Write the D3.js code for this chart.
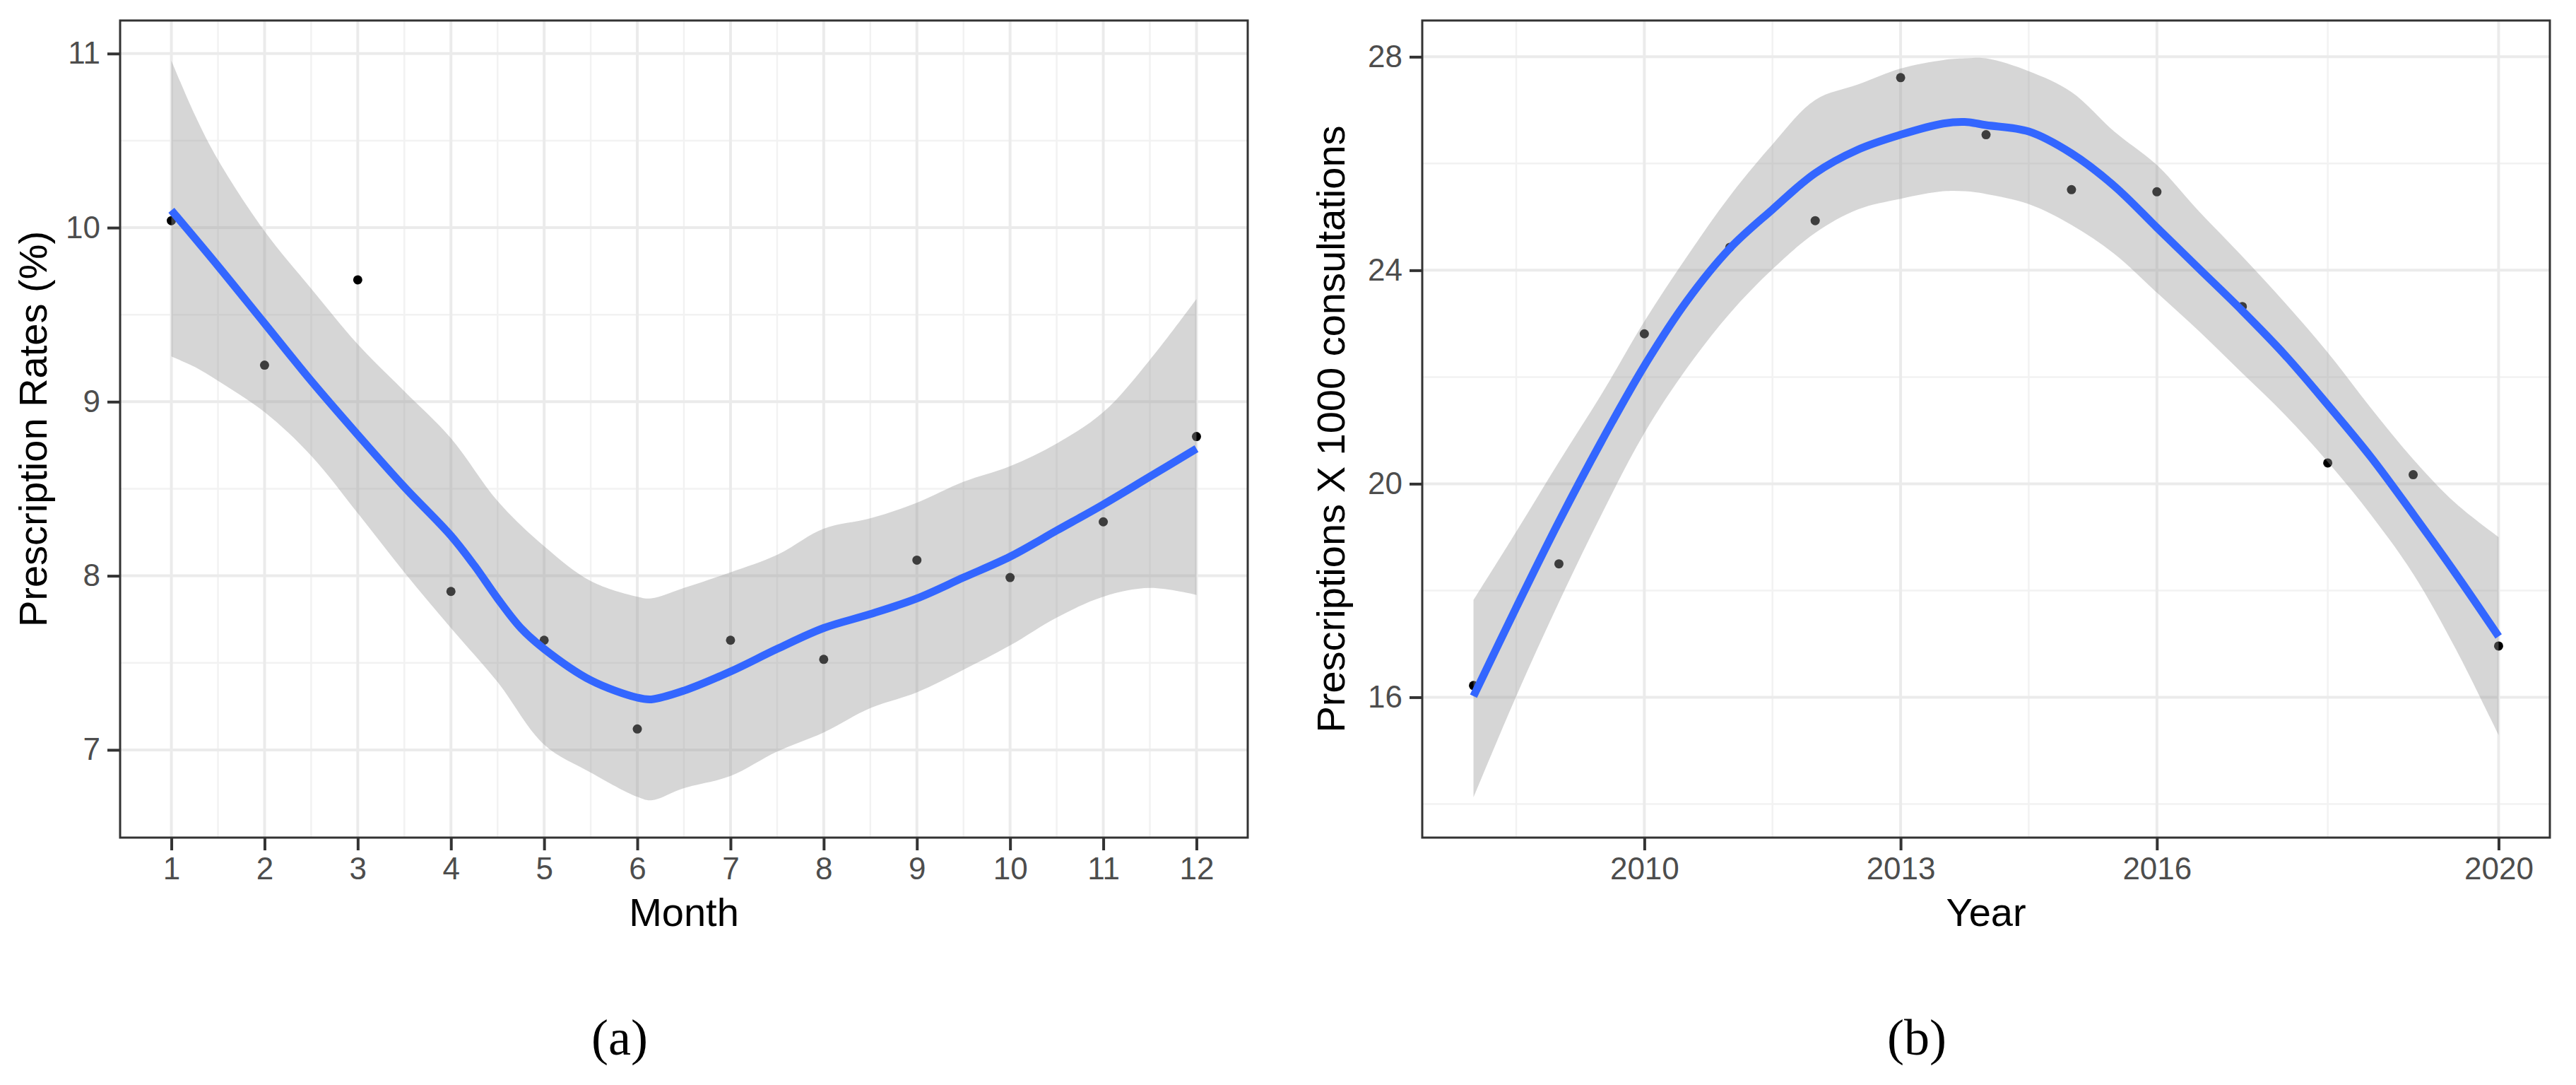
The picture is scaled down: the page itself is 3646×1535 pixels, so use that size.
<!DOCTYPE html>
<html><head><meta charset="utf-8">
<script src="https://cdn.jsdelivr.net/npm/d3@7/dist/d3.min.js"></script>
<style>body{margin:0;background:#fff}</style>
</head><body>
<svg id="c" width="3646" height="1535"></svg>
<script>
// ---------- Panel (a): monthly prescription rates ----------
const months = [1,2,3,4,5,6,7,8,9,10,11,12];
const monthRates = [10.04,9.21,9.70,7.91,7.63,7.12,7.63,7.52,8.09,7.99,8.31,8.80];
const monthFitX = [1,1.5,2,2.5,3,3.5,4,4.25,4.5,4.75,5,5.5,6,6.15,6.5,7,7.5,8,8.5,9,9.5,10,10.5,11,11.5,12];
const monthFit  = [10.10,9.78,9.45,9.12,8.81,8.51,8.23,8.06,7.87,7.70,7.58,7.40,7.30,7.29,7.34,7.45,7.58,7.70,7.78,7.87,7.99,8.11,8.26,8.41,8.57,8.73];
const monthBandX = [1,1.25,1.5,2,2.5,3,3.5,4,4.5,5,5.5,6,6.15,6.5,7,7.5,8,8.5,9,9.5,10,10.5,11,11.5,12];
const monthUpper = [10.96,10.65,10.39,9.98,9.65,9.33,9.06,8.79,8.43,8.17,7.97,7.88,7.87,7.93,8.02,8.12,8.27,8.33,8.42,8.54,8.63,8.76,8.94,9.24,9.59];
const monthLower = [9.26,9.20,9.12,8.94,8.69,8.36,8.02,7.70,7.39,7.03,6.87,6.73,6.71,6.78,6.85,6.99,7.10,7.24,7.33,7.46,7.60,7.76,7.88,7.93,7.89];
const monthTicks = [1,2,3,4,5,6,7,8,9,10,11,12];
const monthMinor = [1.5,2.5,3.5,4.5,5.5,6.5,7.5,8.5,9.5,10.5,11.5];
const rateTicks = [7,8,9,10,11];
const rateMinor = [7.5,8.5,9.5,10.5];

// ---------- Panel (b): yearly prescriptions ----------
const years = [2008,2009,2010,2011,2012,2013,2014,2015,2016,2017,2018,2019,2020];
const yearValues = [16.22,18.50,22.81,24.43,24.93,27.61,26.54,25.51,25.47,23.32,20.39,20.17,16.96];
const yearFitX  = [2008,2008.5,2009,2009.5,2010,2010.5,2011,2011.5,2012,2012.5,2013,2013.5,2013.75,2014,2014.5,2015,2015.5,2016,2016.5,2017,2017.5,2018,2018.5,2019,2019.5,2020];
const yearFit   = [16.02,17.68,19.29,20.80,22.21,23.43,24.41,25.14,25.82,26.26,26.54,26.75,26.78,26.72,26.60,26.19,25.58,24.80,24.02,23.24,22.41,21.48,20.51,19.43,18.31,17.14];
const yearUpper = [17.82,19.10,20.41,21.68,23.04,24.26,25.39,26.36,27.19,27.48,27.78,27.94,27.97,27.97,27.73,27.34,26.60,25.97,25.09,24.26,23.39,22.46,21.43,20.46,19.63,19.00];
const yearLower = [14.12,16.02,17.78,19.43,20.95,22.17,23.19,24.02,24.70,25.14,25.34,25.48,25.48,25.43,25.24,24.85,24.31,23.58,22.85,22.07,21.29,20.41,19.43,18.31,16.90,15.29];
const yearTicks = [2010,2013,2016,2020];
const yearMinor = [2008.5,2011.5,2014.5,2018];
const presTicks = [16,20,24,28];
const presMinor = [14,18,22,26];

const svg = d3.select("#c");
svg.append("rect").attr("width",3646).attr("height",1535).attr("fill","#fff");

function panel(cfg){
  const x = d3.scaleLinear().domain(cfg.xdom).range([cfg.x0,cfg.x1]);
  const y = d3.scaleLinear().domain(cfg.ydom).range([cfg.y1,cfg.y0]);
  const g = svg.append("g");
  // minor grid
  g.selectAll(".mx").data(cfg.xMinor).enter().append("line")
    .attr("x1",d=>x(d)).attr("x2",d=>x(d)).attr("y1",cfg.y0).attr("y2",cfg.y1)
    .attr("stroke","#F2F2F2").attr("stroke-width",2.5);
  g.selectAll(".my").data(cfg.yMinor).enter().append("line")
    .attr("y1",d=>y(d)).attr("y2",d=>y(d)).attr("x1",cfg.x0).attr("x2",cfg.x1)
    .attr("stroke","#F2F2F2").attr("stroke-width",2.5);
  // major grid
  g.selectAll(".Mx").data(cfg.xTicks).enter().append("line")
    .attr("x1",d=>x(d)).attr("x2",d=>x(d)).attr("y1",cfg.y0).attr("y2",cfg.y1)
    .attr("stroke","#EBEBEB").attr("stroke-width",4);
  g.selectAll(".My").data(cfg.yTicks).enter().append("line")
    .attr("y1",d=>y(d)).attr("y2",d=>y(d)).attr("x1",cfg.x0).attr("x2",cfg.x1)
    .attr("stroke","#EBEBEB").attr("stroke-width",4);
  // points (drawn beneath ribbon)
  g.selectAll(".pt").data(cfg.px.map((d,i)=>[d,cfg.py[i]])).enter().append("circle")
    .attr("cx",d=>x(d[0])).attr("cy",d=>y(d[1])).attr("r",6.5).attr("fill","#000");
  // ribbon
  const area = d3.area().x(d=>x(d[0])).y0(d=>y(d[1])).y1(d=>y(d[2])).curve(d3.curveCatmullRom.alpha(0.5));
  g.append("path").datum(cfg.bx.map((d,i)=>[d,cfg.lo[i],cfg.hi[i]]))
    .attr("d",area).attr("fill","#999999").attr("fill-opacity",0.4);
  // fit line
  const line = d3.line().x(d=>x(d[0])).y(d=>y(d[1])).curve(d3.curveCatmullRom.alpha(0.5));
  g.append("path").datum(cfg.fx.map((d,i)=>[d,cfg.fy[i]]))
    .attr("d",line).attr("fill","none").attr("stroke","#3366FF").attr("stroke-width",11)
    .attr("stroke-linecap","butt").attr("stroke-linejoin","round");
  // border
  g.append("rect").attr("x",cfg.x0).attr("y",cfg.y0).attr("width",cfg.x1-cfg.x0).attr("height",cfg.y1-cfg.y0)
    .attr("fill","none").attr("stroke","#333333").attr("stroke-width",3);
  // axes
  const ax = g.append("g").attr("transform",`translate(0,${cfg.y1})`)
    .call(d3.axisBottom(x).tickValues(cfg.xTicks).tickFormat(d3.format("d")).tickSize(18).tickPadding(10));
  const ay = g.append("g").attr("transform",`translate(${cfg.x0},0)`)
    .call(d3.axisLeft(y).tickValues(cfg.yTicks).tickFormat(d3.format("d")).tickSize(18).tickPadding(10));
  [ax,ay].forEach(a=>{
    a.select(".domain").remove();
    a.selectAll(".tick line").attr("stroke","#333333").attr("stroke-width",4);
    a.selectAll(".tick text").attr("fill","#4D4D4D").style("font-family","'Liberation Sans',Arial,sans-serif").style("font-size","44px");
  });
  // titles
  g.append("text").attr("x",(cfg.x0+cfg.x1)/2).attr("y",1310).attr("text-anchor","middle")
    .style("font-family","'Liberation Sans',Arial,sans-serif").style("font-size","56px").attr("fill","#000").text(cfg.xTitle);
  g.append("text").attr("transform",`translate(${cfg.ytx},${(cfg.y0+cfg.y1)/2}) rotate(-90)`).attr("text-anchor","middle")
    .style("font-family","'Liberation Sans',Arial,sans-serif").style("font-size","56px").attr("fill","#000").text(cfg.yTitle);
  g.append("text").attr("x",cfg.labX).attr("y",1492).attr("text-anchor","middle")
    .style("font-family","'Liberation Serif','DejaVu Serif',serif").style("font-size","72px").attr("fill","#000").text(cfg.label);
}

panel({x0:170,x1:1766,y0:29,y1:1185,xdom:[0.45,12.55],ydom:[6.496,11.19],
  xTicks:monthTicks,xMinor:monthMinor,yTicks:rateTicks,yMinor:rateMinor,
  px:months,py:monthRates,fx:monthFitX,fy:monthFit,bx:monthBandX,lo:monthLower,hi:monthUpper,
  xTitle:"Month",yTitle:"Prescription Rates (%)",ytx:66,label:"(a)",labX:877});

panel({x0:2013,x1:3609,y0:29,y1:1185,xdom:[2007.4,2020.6],ydom:[13.37,28.68],
  xTicks:yearTicks,xMinor:yearMinor,yTicks:presTicks,yMinor:presMinor,
  px:years,py:yearValues,fx:yearFitX,fy:yearFit,bx:yearFitX,lo:yearLower,hi:yearUpper,
  xTitle:"Year",yTitle:"Prescriptions X 1000 consultations",ytx:1903,label:"(b)",labX:2713});
</script>
</body></html>
